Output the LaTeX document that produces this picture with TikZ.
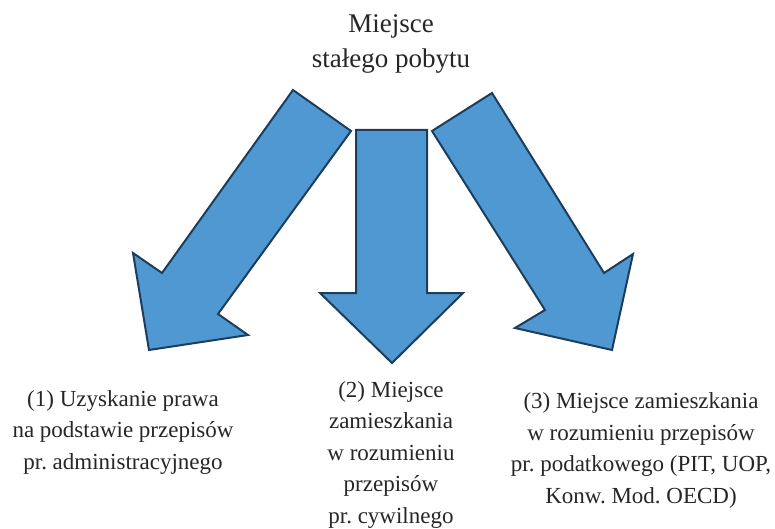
\documentclass[tikz,border=0pt]{standalone}
\usepackage{fontspec}
\setmainfont{Liberation Serif}
\frenchspacing
\definecolor{arrowfill}{RGB}{80,152,210}
\definecolor{arrowline}{RGB}{28,62,92}
\begin{document}
\begin{tikzpicture}[x=1pt,y=-1pt,
  bigarrow/.style={fill=arrowfill,draw=arrowline,line width=2pt,line join=miter},
  label/.style={align=center,inner sep=0pt,anchor=base,font=\fontsize{23}{31.5}\selectfont,text=black!85},
  titlelabel/.style={align=center,inner sep=0pt,anchor=base,font=\fontsize{27}{35}\selectfont,text=black!85}]
\useasboundingbox (0,0) rectangle (775,529);
% left arrow
\draw[bigarrow] (293,90) -- (351,131) -- (218,314) -- (248,335) -- (149,350) -- (133,253) -- (162,273) -- cycle;
% middle arrow
\draw[bigarrow] (356,130) -- (427,130) -- (427,293) -- (463,293) -- (392,363) -- (320,293) -- (356,293) -- cycle;
% right arrow
\draw[bigarrow] (432,131) -- (492,93) -- (604,273) -- (633,254) -- (612,350) -- (515,328) -- (545,310) -- cycle;
% texts (anchor = baseline of the last line)
\node[titlelabel] (title) at (391,68) {Miejsce\\stałego pobytu};
\node[label] (l1) at (123,469) {(1) Uzyskanie prawa\\na podstawie przepisów\\pr. administracyjnego};
\node[label] (l2) at (391,523) {(2) Miejsce\\zamieszkania\\w rozumieniu\\przepisów\\pr. cywilnego};
\node[label] (l3) at (641,503) {(3) Miejsce zamieszkania\\w rozumieniu przepisów\\pr. podatkowego (PIT, UOP,\\Konw. Mod. OECD)};
\end{tikzpicture}
\end{document}
